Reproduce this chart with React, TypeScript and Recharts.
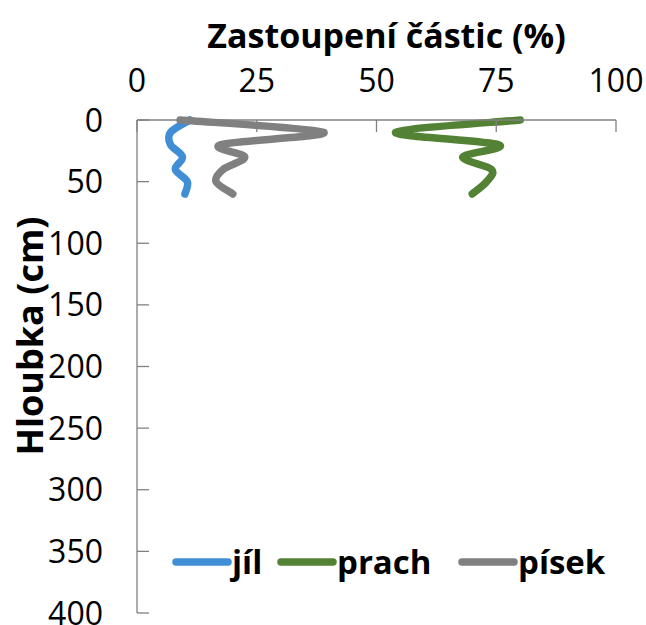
import React from 'react';
import { LineChart, Line, XAxis, YAxis, Legend } from 'recharts';

// hloubka (cm) a zastoupení frakcí (%)
const depths = [0, 10, 20, 30, 40, 50, 60];
const jil = [11, 7, 7, 9.5, 8, 10.5, 10];
const prach = [80, 54, 75.5, 68, 74, 73, 70];
const pisek = [9, 39, 17.5, 22.5, 18, 16.5, 20];

const xTicks = [0, 25, 50, 75, 100];
const yTicks = [0, 50, 100, 150, 200, 250, 300, 350, 400];

const seriesNames = ['jíl', 'prach', 'písek'];
const seriesColors = ['#3F8ED6', '#548235', '#808080'];

const data = depths.map((d, i) => ({ depth: d, jil: jil[i], prach: prach[i], pisek: pisek[i] }));

const FONT = '"Open Sans", "Noto Sans", sans-serif';
const AXIS = '#808080';

// Excel-like smoothed line (Catmull-Rom through the points)
const excelSmooth = (context: any) => {
  let pts: [number, number][] = [];
  return {
    areaStart() {},
    areaEnd() {},
    lineStart() {
      pts = [];
    },
    lineEnd() {
      if (!pts.length) return;
      context.moveTo(pts[0][0], pts[0][1]);
      for (let i = 0; i < pts.length - 1; i++) {
        const p0 = pts[Math.max(0, i - 1)];
        const p1 = pts[i];
        const p2 = pts[i + 1];
        const p3 = pts[Math.min(pts.length - 1, i + 2)];
        context.bezierCurveTo(
          p1[0] + (p2[0] - p0[0]) / 6,
          p1[1] + (p2[1] - p0[1]) / 6,
          p2[0] - (p3[0] - p1[0]) / 6,
          p2[1] - (p3[1] - p1[1]) / 6,
          p2[0],
          p2[1]
        );
      }
    },
    point(x: number, y: number) {
      pts.push([x, y]);
    },
  };
};

const TopTick = (props: any) => {
  const { x, y, payload } = props;
  return (
    <g>
      <line x1={x} y1={y} x2={x} y2={y + 12} stroke={AXIS} strokeWidth={1.3} />
      <text x={x} y={y - 28} textAnchor="middle" fontSize={32} fontFamily={FONT} fill="#000">
        {payload.value}
      </text>
    </g>
  );
};

const LeftTick = (props: any) => {
  const { x, y, payload } = props;
  return (
    <g>
      <line x1={x} y1={y} x2={x + 12} y2={y} stroke={AXIS} strokeWidth={1.3} />
      <text x={x - 34} y={y + 11.5} textAnchor="end" fontSize={32} fontFamily={FONT} fill="#000">
        {payload.value}
      </text>
    </g>
  );
};

const XTitle = (props: any) => {
  const { viewBox } = props;
  const cx = viewBox.x + viewBox.width / 2 + 10;
  return (
    <text x={cx} y={48} textAnchor="middle" fontSize={34} fontWeight="bold" fontFamily={FONT} fill="#000">
      Zastoupení částic (%)
    </text>
  );
};

const YTitle = () => (
  <text
    x={43}
    y={336}
    transform="rotate(-90, 43, 336)"
    textAnchor="middle"
    fontSize={36}
    fontWeight="bold"
    fontFamily={FONT}
    fill="#000"
  >
    Hloubka (cm)
  </text>
);

const slotWidths = [105, 181, 160];

const LegendContent = (props: any) => {
  const { payload } = props;
  return (
    <div style={{ display: 'flex', alignItems: 'center', height: 44 }}>
      {(payload || []).map((p: any, i: number) => (
        <div key={p.value} style={{ display: 'flex', alignItems: 'center', width: slotWidths[i] }}>
          <svg width={60} height={10} style={{ display: 'block' }}>
            <line x1={4} y1={5} x2={56} y2={5} stroke={p.color} strokeWidth={7.5} strokeLinecap="round" />
          </svg>
          <span style={{ fontFamily: FONT, fontWeight: 'bold', fontSize: 33, lineHeight: '44px', color: '#000' }}>
            {p.value}
          </span>
        </div>
      ))}
    </div>
  );
};

export default function App() {
  return (
    <div style={{ position: 'fixed', left: 0, top: 0, width: 646, height: 625, overflow: 'hidden', background: '#fff' }}>
      <LineChart
        width={646}
        height={625}
        data={data}
        layout="vertical"
        margin={{ top: 0, right: 30, bottom: 12, left: 0 }}
      >
        <XAxis
          type="number"
          orientation="top"
          domain={[0, 100]}
          ticks={xTicks}
          height={120}
          tickSize={0}
          tickMargin={0}
          tickLine={false}
          axisLine={{ stroke: AXIS, strokeWidth: 1.3 }}
          tick={<TopTick />}
          interval={0}
          label={<XTitle />}
        />
        <YAxis
          type="number"
          dataKey="depth"
          domain={[0, 400]}
          ticks={yTicks}
          width={137}
          tickSize={0}
          tickMargin={0}
          tickLine={false}
          axisLine={{ stroke: AXIS, strokeWidth: 1.3 }}
          tick={<LeftTick />}
          interval={0}
          label={<YTitle />}
        />
        <Legend
          layout="horizontal"
          verticalAlign="middle"
          align="center"
          wrapperStyle={{ position: 'absolute', left: 172, top: 540, width: 460 }}
          content={<LegendContent />}
        />
        <Line
          dataKey="jil"
          name={seriesNames[0]}
          type={excelSmooth as any}
          stroke={seriesColors[0]}
          strokeWidth={7.5}
          strokeLinecap="round"
          strokeLinejoin="round"
          dot={false}
          activeDot={false}
          isAnimationActive={false}
        />
        <Line
          dataKey="prach"
          name={seriesNames[1]}
          type={excelSmooth as any}
          stroke={seriesColors[1]}
          strokeWidth={7.5}
          strokeLinecap="round"
          strokeLinejoin="round"
          dot={false}
          activeDot={false}
          isAnimationActive={false}
        />
        <Line
          dataKey="pisek"
          name={seriesNames[2]}
          type={excelSmooth as any}
          stroke={seriesColors[2]}
          strokeWidth={7.5}
          strokeLinecap="round"
          strokeLinejoin="round"
          dot={false}
          activeDot={false}
          isAnimationActive={false}
        />
      </LineChart>
    </div>
  );
}
